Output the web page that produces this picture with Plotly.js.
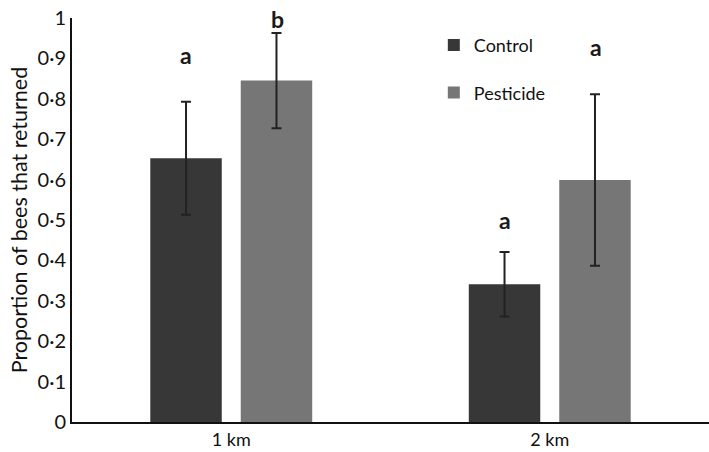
<!DOCTYPE html>
<html>
<head>
<meta charset="utf-8">
<script src="https://cdn.plot.ly/plotly-3.0.1.min.js"></script>
<style>html,body{margin:0;padding:0;background:#fff;}#chart{width:709px;height:452px;}</style>
</head>
<body>
<div id="chart"></div>
<script>
const categories = ["1 km", "2 km"];
const controlValues = [0.653, 0.341];
const controlErrors = [0.140, 0.080];
const pesticideValues = [0.845, 0.599];
const pesticideErrors = [0.118, 0.212];
const controlLetters = ["a", "a"];
const controlLetterY = [0.908, 0.500];
const pesticideLetters = ["b", "a"];
const pesticideLetterY = [0.998, 0.928];
const yTickVals = [0, 0.1, 0.2, 0.3, 0.4, 0.5, 0.6, 0.7, 0.8, 0.9, 1];
const yTickText = ["0", "0·1", "0·2", "0·3", "0·4", "0·5", "0·6", "0·7", "0·8", "0·9", "1"];

const FONT = "Lato, Open Sans, sans-serif";
const errStyle = {type: "data", visible: true, color: "#222", thickness: 2, width: 5};

const traces = [
  {type: "bar", name: "Control", x: categories, y: controlValues,
   marker: {color: "#373737"}, legendgroup: "c",
   error_y: Object.assign({array: controlErrors}, errStyle)},
  {type: "bar", name: "Pesticide", x: categories, y: pesticideValues,
   marker: {color: "#767676"}, legendgroup: "p",
   error_y: Object.assign({array: pesticideErrors}, errStyle)}
];

const letterFont = {family: FONT, size: 23, color: "#1a1a1a", weight: "bold"};
const annotations = [];
categories.forEach((c, i) => {
  annotations.push({x: c, y: controlLetterY[i], xref: "x", yref: "paper", yanchor: "middle", xshift: -45,
    text: controlLetters[i], showarrow: false, font: letterFont});
  annotations.push({x: c, y: pesticideLetterY[i], xref: "x", yref: "paper", yanchor: "middle", xshift: 46,
    text: pesticideLetters[i], showarrow: false, font: letterFont});
});

const layout = {
  width: 709, height: 452,
  margin: {l: 72, r: 0, t: 18, b: 30},
  paper_bgcolor: "#fff", plot_bgcolor: "#fff",
  barmode: "group", bargap: 0.432, bargroupgap: 0.21,
  font: {family: FONT, size: 18, color: "#111"},
  xaxis: {showline: true, linecolor: "#111", linewidth: 2, showgrid: false, ticks: "",
    tickfont: {family: FONT, size: 18, color: "#111"}, zeroline: false, fixedrange: true},
  yaxis: {range: [0, 1], showline: true, linecolor: "#111", linewidth: 2, showgrid: false,
    zeroline: false, ticks: "", tickvals: yTickVals, ticktext: yTickText,
    tickfont: {family: FONT, size: 20, color: "#111"},
    title: {text: "Proportion of bees that returned", font: {family: FONT, size: 21.5, color: "#111"}, standoff: 4}},
  showlegend: true,
  legend: {x: 0.568, y: 0.978, xanchor: "left", yanchor: "top", tracegroupgap: 21,
    font: {family: FONT, size: 18, color: "#111"}, bgcolor: "rgba(0,0,0,0)"},
  annotations: annotations
};

Plotly.newPlot("chart", traces, layout, {displayModeBar: false, staticPlot: true});
</script>
</body>
</html>
